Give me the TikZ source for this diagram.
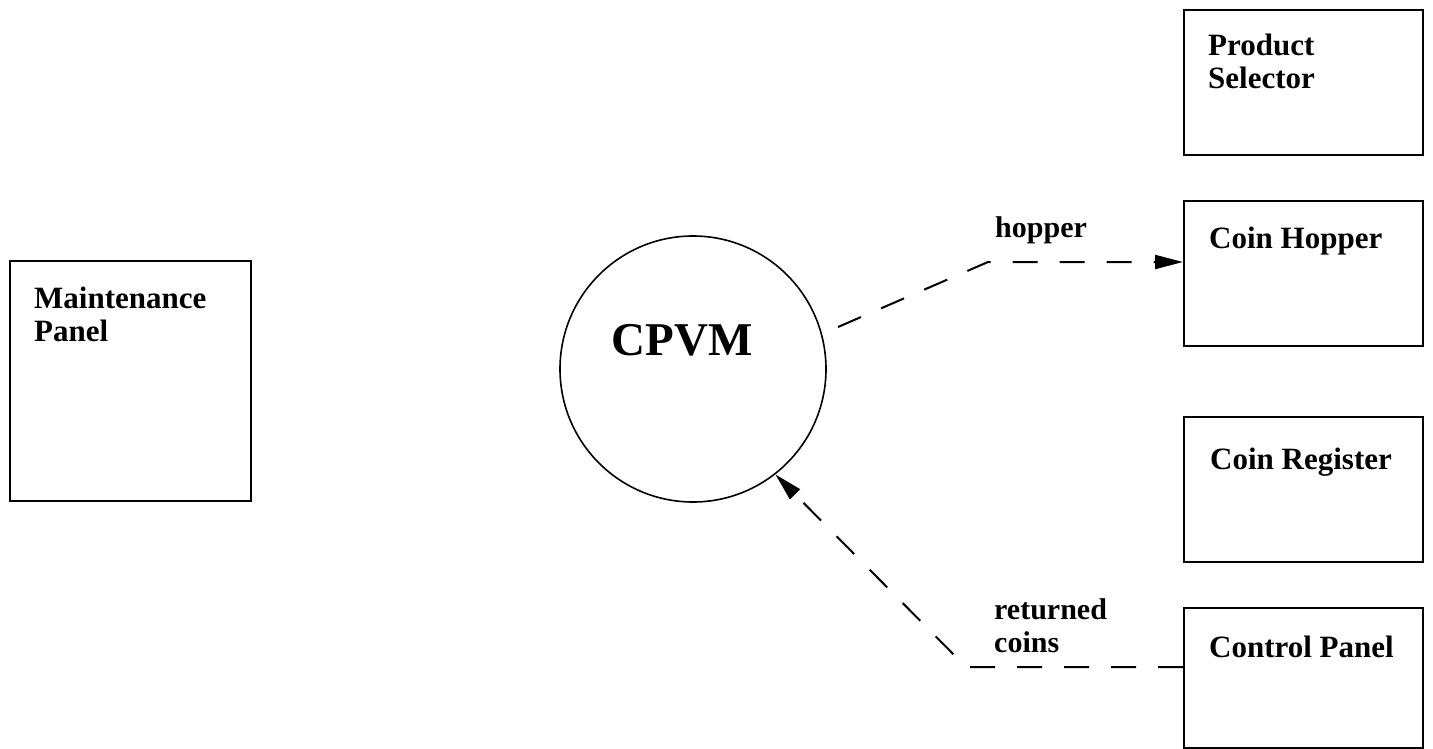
\documentclass[tikz,border=0pt]{standalone}
\usepackage{fontspec}
\setmainfont{Liberation Serif}
\usetikzlibrary{arrows.meta}
\begin{document}
\begin{tikzpicture}[x=1pt,y=-1pt,
  unit/.style={draw, line width=2pt, rectangle, inner sep=0pt, anchor=north west},
  unitlabel/.style={anchor=base west, inner sep=0pt, font=\fontsize{31}{33}\selectfont\bfseries, align=left},
  flowlabel/.style={anchor=base west, inner sep=0pt, font=\fontsize{30}{33}\selectfont\bfseries, align=left},
  flow/.style={line width=2pt, dash pattern=on 25pt off 22pt,
    -{Triangle[length=28pt,width=14pt]}},
]
\useasboundingbox (0,0) rectangle (1433,749);

% external units
\node[unit, minimum width=241pt, minimum height=240pt] (maint) at (9,260) {};
\node[unit, minimum width=239pt, minimum height=145pt] (prod) at (1183,9) {};
\node[unit, minimum width=239pt, minimum height=145pt] (hop) at (1183,200) {};
\node[unit, minimum width=239pt, minimum height=145pt] (reg) at (1183,416) {};
\node[unit, minimum width=239pt, minimum height=140pt] (ctrl) at (1183,607) {};

% labels are placed by the baseline of their last line
\node[unitlabel] (maintL) at (34,341) {Maintenance\\Panel};
\node[unitlabel] (prodL) at (1208,89) {Product\\Selector};
\node[unitlabel] (hopL) at (1209,248) {Coin Hopper};
\node[unitlabel] (regL) at (1210,469) {Coin Register};
\node[unitlabel] (ctrlL) at (1209,657) {Control Panel};

% the system process
\node[draw, circle, line width=1.6pt, minimum size=266pt, inner sep=0pt] (cpvm) at (693,369) {};
\node[anchor=base, inner sep=0pt, font=\fontsize{47}{50}\selectfont\bfseries] (cpvmL) at (682,355) {CPVM};

% data flows
\coordinate (hstart) at (838,327);
\coordinate (hbend) at (988,262);
\draw[flow] (hstart) -- (hbend) -- (hop.west |- hbend);
\node[flowlabel] (hopperL) at (995,237) {hopper};

\coordinate (rbend) at (966,667);
\draw[flow] (ctrl.west |- rbend) -- (rbend) -- (cpvm.-52);
\node[flowlabel] (retL) at (994,652) {returned\\coins};
\end{tikzpicture}
\end{document}
